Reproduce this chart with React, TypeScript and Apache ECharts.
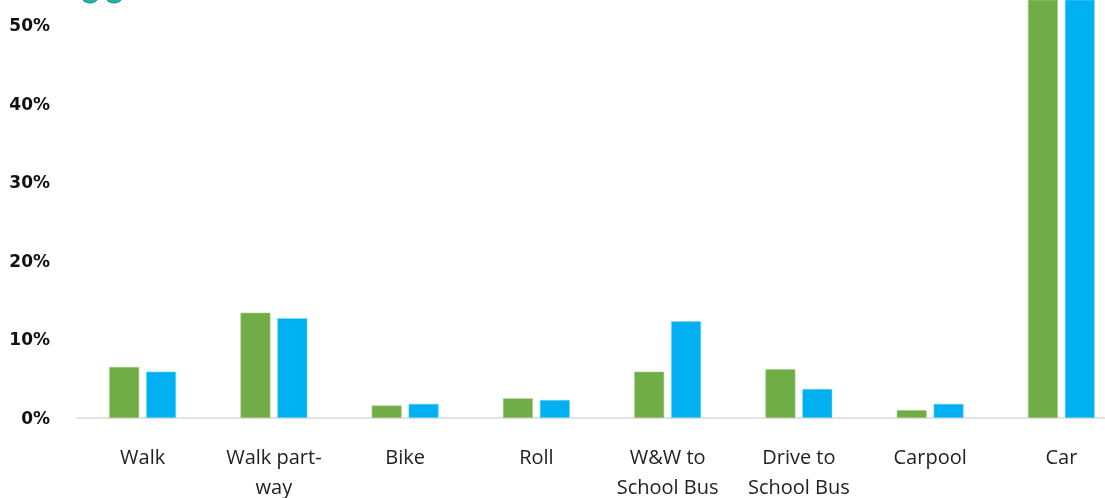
import React, { useEffect, useRef } from "react";
import * as echarts from "echarts";

const categories = [
  "Walk",
  "Walk part-\nway",
  "Bike",
  "Roll",
  "W&W to\nSchool Bus",
  "Drive to\nSchool Bus",
  "Carpool",
  "Car",
];
const seriesA = [6.5, 13.4, 1.6, 2.5, 5.9, 6.2, 1.0, 60];
const seriesB = [5.9, 12.7, 1.8, 2.3, 12.3, 3.7, 1.8, 60];
const yMin = 0;
const yInterval = 10;
const yVisibleMax = 53.18;

export default function App() {
  const ref = useRef<HTMLDivElement>(null);
  useEffect(() => {
    if (!ref.current) return;
    const chart = echarts.init(ref.current, null, { renderer: "svg" });
    chart.setOption({
      animation: false,
      grid: { left: 77, top: 0, width: 1050, height: 418, containLabel: false, outerBoundsMode: "none" },
      graphic: [
        { type: "circle", shape: { cx: 90, cy: -7, r: 10 }, style: { fill: "#1fb5a9", stroke: "#118a80", lineWidth: 1 } },
        { type: "circle", shape: { cx: 114, cy: -7, r: 10 }, style: { fill: "#1fb5a9", stroke: "#118a80", lineWidth: 1 } },
      ],
      xAxis: {
        type: "category",
        data: categories,
        axisLine: { lineStyle: { color: "#d9d9d9", width: 1.5 } },
        axisTick: { show: false },
        axisLabel: {
          interval: 0,
          margin: 23,
          color: "#222",
          fontFamily: "Open Sans",
          fontSize: 20,
          lineHeight: 30,
        },
      },
      yAxis: {
        type: "value",
        min: yMin,
        max: yVisibleMax,
        interval: yInterval,
        splitLine: { show: false },
        axisLine: { show: false },
        axisTick: { show: false },
        axisLabel: {
          showMaxLabel: false,
          margin: 27,
          color: "#111",
          fontFamily: "DejaVu Sans",
          fontWeight: "bold",
          fontSize: 17,
          formatter: "{value}%",
        },
      },
      series: [
        {
          type: "bar",
          data: seriesA,
          barWidth: 30,
          barGap: "23%",
          clip: true,
          itemStyle: { color: "#70AD47", borderColor: "#a9cf90", borderWidth: 0.6 },
        },
        {
          type: "bar",
          data: seriesB,
          barWidth: 30,
          clip: true,
          itemStyle: { color: "#00B0F0", borderColor: "#7fd6f6", borderWidth: 0.6 },
        },
      ],
    });
    return () => chart.dispose();
  }, []);
  return (
    <div
      ref={ref}
      style={{ position: "fixed", top: 0, left: 0, width: 1105, height: 498, overflow: "hidden" }}
    />
  );
}
